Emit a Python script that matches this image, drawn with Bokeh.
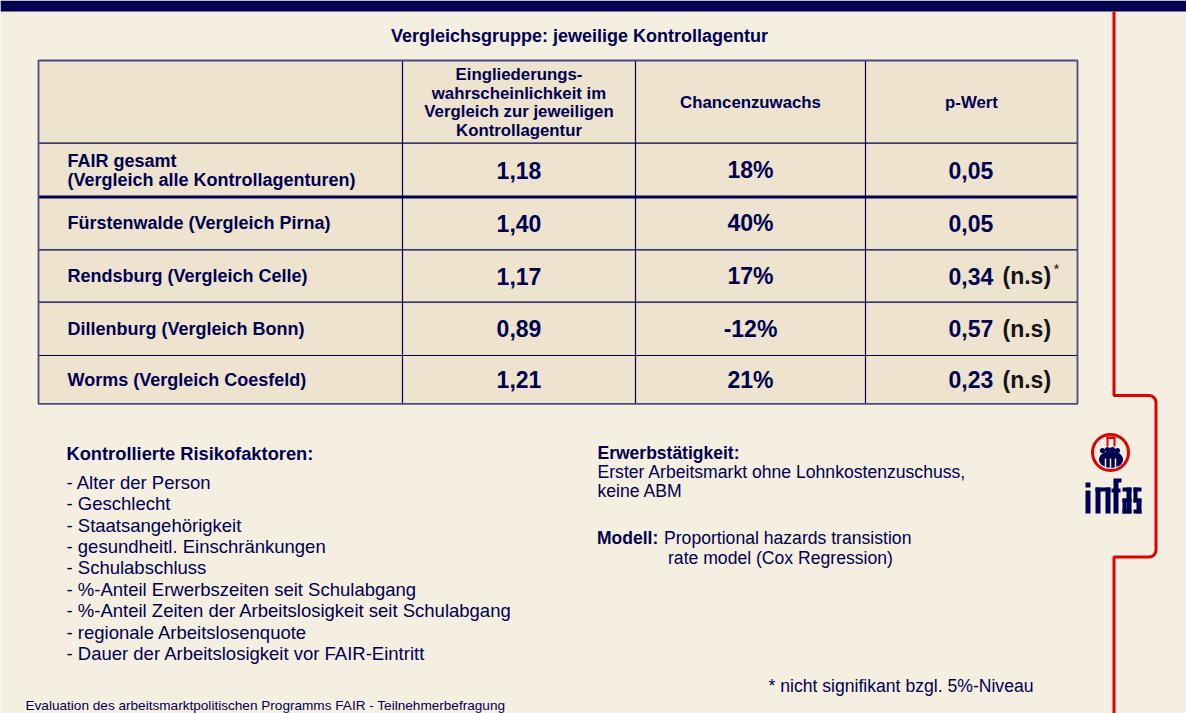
import numpy as np
from bokeh.plotting import figure
from bokeh.models import Range1d, ColumnDataSource
from bokeh.core.properties import value
from bokeh.embed import file_html
from bokeh.resources import INLINE

# ---------------- data ----------------
title = "Vergleichsgruppe: jeweilige Kontrollagentur"
col_headers = [
    ["Eingliederungs-", "wahrscheinlichkeit im", "Vergleich zur jeweiligen", "Kontrollagentur"],
    ["Chancenzuwachs"],
    ["p-Wert"],
]
row_labels = [
    ["FAIR gesamt", "(Vergleich alle Kontrollagenturen)"],
    ["Fürstenwalde (Vergleich Pirna)"],
    ["Rendsburg (Vergleich Celle)"],
    ["Dillenburg (Vergleich Bonn)"],
    ["Worms (Vergleich Coesfeld)"],
]
odds_ratio = [1.18, 1.40, 1.17, 0.89, 1.21]
chance_gain = [18, 40, 17, -12, 21]
p_value = [0.05, 0.05, 0.34, 0.57, 0.23]
significance = ["", "", "(n.s)", "(n.s)", "(n.s)"]
footnote_mark = ["", "", "*", "", ""]

risk_title = "Kontrollierte Risikofaktoren:"
risk_factors = [
    "- Alter der Person",
    "- Geschlecht",
    "- Staatsangehörigkeit",
    "- gesundheitl. Einschränkungen",
    "- Schulabschluss",
    "- %-Anteil Erwerbszeiten seit Schulabgang",
    "- %-Anteil Zeiten der Arbeitslosigkeit seit Schulabgang",
    "- regionale Arbeitslosenquote",
    "- Dauer der Arbeitslosigkeit vor FAIR-Eintritt",
]
employment_title = "Erwerbstätigkeit:"
employment_text = ["Erster Arbeitsmarkt ohne Lohnkostenzuschuss,", "keine ABM"]
model_title = "Modell:"
model_text = ["Proportional hazards transistion", "rate model  (Cox Regression)"]
footnote = "* nicht signifikant bzgl. 5%-Niveau"
footer = "Evaluation des arbeitsmarktpolitischen Programms FAIR - Teilnehmerbefragung"

def de(v, nd=2):
    return f"{v:.{nd}f}".replace(".", ",")

# ---------------- layout / style ----------------
NAVY = "#000050"
RED = "#E00000"
BG = "#F5EFE2"
CELL = "#EDE3CE"
FONT = "Liberation Sans"

col_edges = [38, 402, 635, 865, 1077]
row_edges = [60, 142.7, 196.5, 249.3, 301.7, 355, 403.3]

p = figure(width=1186, height=713, x_range=Range1d(0, 1186), y_range=Range1d(713, 0),
           output_backend="svg", toolbar_location=None, min_border=0)
p.axis.visible = False
p.grid.visible = False
p.outline_line_color = None
p.background_fill_color = BG
p.border_fill_color = BG

def txt(xs, ys, texts, size, bold=False, color=NAVY, align="left", baseline="middle", font=FONT):
    src = ColumnDataSource(dict(x=list(xs), y=list(ys), t=list(texts)))
    p.text(x="x", y="y", text="t", source=src, text_font=value(font),
           text_font_size=f"{size}px", text_font_style="bold" if bold else "normal",
           text_color=color, text_align=align, text_baseline=baseline)

# top bar
p.quad(left=[0], right=[1186], top=[0], bottom=[11], fill_color=NAVY, line_color=None)

# red bracket line
r = 7
t1 = np.linspace(-np.pi / 2, 0, 8)
t2 = np.linspace(0, np.pi / 2, 8)
xr, y1, y2 = 1155.5, 395, 556.5
px = [1113.5, 1113.5] + list(xr - r + r * np.cos(t1)) + list(xr - r + r * np.cos(t2)) + [1113.5, 1113.5]
py = [11, y1] + list(y1 + r + r * np.sin(t1)) + list(y2 - r + r * np.sin(t2)) + [y2, 720]
p.line(px, py, line_color=RED, line_width=3)

# logo: emblem
p.circle(x=[1110], y=[452], radius=18, fill_color=None, line_color=RED, line_width=3)
p.ellipse(x=[1110.5], y=[459], width=24, height=17, fill_color=NAVY, line_color=None)
p.circle(x=[1102, 1107, 1112, 1117], y=[450, 449, 449, 450], radius=2.6, fill_color=NAVY, line_color=None)
p.segment(x0=[1105, 1110, 1115], y0=[458, 458, 458], x1=[1105, 1110, 1115], y1=[468, 468, 468],
          line_color=BG, line_width=1.5)
p.quad(left=[1106, 1106, 1113], right=[1114, 1108, 1115], top=[436, 436, 436], bottom=[438.5, 446, 446],
       fill_color=RED, line_color=None)
# logo: "infas" lettering as condensed strokes
L = [1085, 1085, 1095, 1095, 1105, 1113, 1113, 1111, 1122, 1126, 1122, 1122, 1122, 1133, 1133, 1133, 1136, 1133]
R = [1090, 1090, 1100, 1110, 1110, 1118, 1121, 1120, 1131, 1131, 1126, 1131, 1131, 1141, 1137, 1141, 1141, 1141]
T = [482, 490, 487, 487, 487, 481, 478, 488, 487, 487, 498, 498, 509, 487, 487, 498, 498, 509]
B = [487, 513, 513, 491, 513, 513, 482, 492, 491, 513, 513, 502, 513, 491, 502, 502, 513, 513]
p.quad(left=L, right=R, top=T, bottom=B, fill_color=NAVY, line_color=None)

# title
txt([579], [35], [title], 18, bold=True, align="center")

# table background
p.quad(left=[col_edges[0]], right=[col_edges[-1]], top=[row_edges[0]], bottom=[row_edges[-1]],
       fill_color=CELL, line_color=None)
hy = [row_edges[1], row_edges[3], row_edges[4], row_edges[5]]
p.segment(x0=[col_edges[0]] * 4, y0=hy, x1=[col_edges[-1]] * 4, y1=hy, line_color=NAVY, line_width=1.2)
p.segment(x0=[col_edges[0]], y0=[row_edges[2]], x1=[col_edges[-1]], y1=[row_edges[2]],
          line_color=NAVY, line_width=3)
vx = col_edges[1:4]
p.segment(x0=vx, y0=[row_edges[0]] * 3, x1=vx, y1=[row_edges[-1]] * 3, line_color=NAVY, line_width=1.2)
p.quad(left=[col_edges[0]], right=[col_edges[-1]], top=[row_edges[0]], bottom=[row_edges[-1]],
       fill_color=None, line_color="#4a4a80", line_width=1.8)

# header texts
hmid = (row_edges[0] + row_edges[1]) / 2
for ci, lines in enumerate(col_headers):
    cx = (col_edges[ci + 1] + col_edges[ci + 2]) / 2
    n = len(lines)
    ys = [hmid + (k - (n - 1) / 2) * 18.5 + 0.5 for k in range(n)]
    txt([cx] * n, ys, lines, 16.8, bold=True, align="center")

# rows
c2 = (col_edges[1] + col_edges[2]) / 2
c3 = (col_edges[2] + col_edges[3]) / 2
for ri in range(len(row_labels)):
    ymid = (row_edges[ri + 1] + row_edges[ri + 2]) / 2
    lines = row_labels[ri]
    n = len(lines)
    ys = [ymid + (k - (n - 1) / 2) * 19 for k in range(n)]
    txt([67] * n, ys, lines, 18, bold=True)
    txt([c2], [ymid], [de(odds_ratio[ri])], 23, bold=True, align="center")
    txt([c3], [ymid], [f"{chance_gain[ri]}%"], 23, bold=True, align="center")
    txt([948], [ymid], [de(p_value[ri])], 23, bold=True)
    if significance[ri]:
        txt([1002], [ymid], [significance[ri]], 23, bold=True, color="#141414")
    if footnote_mark[ri]:
        txt([1053], [ymid - 8], [footnote_mark[ri]], 15, color="#141414")

# lower left block
txt([66], [452.7], [risk_title], 18.3, bold=True)
ly = [481.7 + k * 21.4 for k in range(len(risk_factors))]
txt([66] * len(risk_factors), ly, risk_factors, 18.5)

# lower right block
txt([597], [452.7], [employment_title], 17.5, bold=True)
txt([597, 597], [471.7, 490], employment_text, 17.6)
txt([596.5], [537.7], [model_title], 17.5, bold=True)
txt([663.5, 667.5], [537.7, 557.3], model_text, 17.6)

# footnote and footer
txt([1033], [685], [footnote], 17.6, align="right")
txt([25], [705], [footer], 13.6, baseline="alphabetic")

open("out.html", "w").write(file_html(p, INLINE))
